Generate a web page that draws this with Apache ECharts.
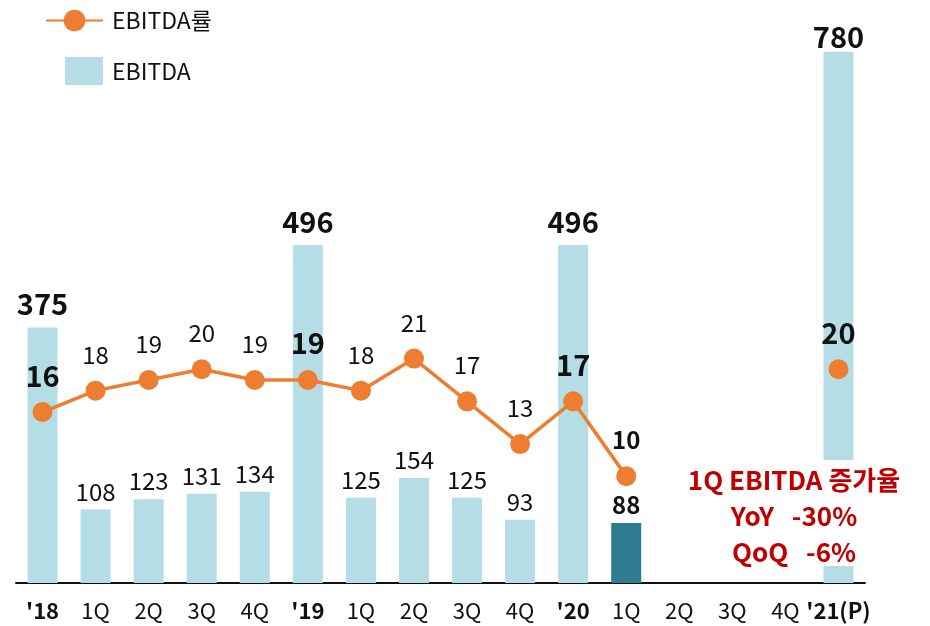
<!DOCTYPE html>
<html>
<head>
<meta charset="utf-8">
<script src="https://cdn.jsdelivr.net/npm/echarts@6/dist/echarts.min.js"></script>
<style>
  html, body { margin: 0; padding: 0; background: #fff; }
  #chart { width: 930px; height: 626px; }
</style>
</head>
<body>
<div id="chart"></div>
<script>
// categories on the x axis ('annual' ones are drawn bold)
const categories = ["'18", '1Q', '2Q', '3Q', '4Q', "'19", '1Q', '2Q', '3Q', '4Q', "'20", '1Q', '2Q', '3Q', '4Q', "'21(P)"]
const annualIdx = [0, 5, 10, 15]
const currentIdx = 11 // 1Q'20, highlighted

// EBITDA (bars)
const ebitda = [375, 108, 123, 131, 134, 496, 125, 154, 125, 93, 496, 88, null, null, null, 780]
// EBITDA률 (line)
const ebitdaRate = [16, 18, 19, 20, 19, 19, 18, 21, 17, 13, 17, 10, null, null, null, 20]

const noteLines = ['1Q EBITDA 증가율', 'YoY   -30%', 'QoQ   -6%']

const FONT = '"Noto Sans CJK KR", "Noto Sans", sans-serif'
const ORANGE = '#ed7d31'
const LIGHT = '#b5dde6'
const DARK = '#2f7b8f'

const isAnnual = i => annualIdx.indexOf(i) >= 0
const lastIdx = categories.length - 1

const barData = ebitda.map((v, i) => {
  if (v === null) return null
  const item = { value: v, label: {} }
  if (i === currentIdx) {
    item.itemStyle = { color: DARK }
    item.label = { fontWeight: 'bold', fontSize: 24, distance: 6 }
  } else if (isAnnual(i)) {
    // top bar label sits lower, close to the chart top
    item.label = { fontWeight: 'bold', fontSize: 29, distance: i === lastIdx ? 0 : 9 }
  }
  return item
})

const lineData = ebitdaRate.map((v, i) => {
  if (v === null) return null
  const item = { value: v }
  if (isAnnual(i)) {
    item.label = { fontWeight: 'bold', fontSize: 29, distance: 12 }
  } else if (i === currentIdx) {
    item.label = { fontWeight: 'bold', fontSize: 24 }
  }
  return item
})

const chart = echarts.init(document.getElementById('chart'))

chart.setOption({
  animation: false,
  textStyle: { fontFamily: FONT },
  legend: [
    {
      data: [{ name: 'EBITDA률' }],
      left: 40,
      top: 4,
      itemWidth: 57,
      itemHeight: 27,
      textStyle: { fontSize: 23, color: '#111', fontFamily: FONT, padding: [0, 0, 0, 4] }
    },
    {
      data: [{ name: 'EBITDA', icon: 'rect' }],
      left: 60,
      top: 52,
      itemWidth: 38,
      itemHeight: 28,
      textStyle: { fontSize: 23, color: '#111', fontFamily: FONT, padding: [0, 0, 0, 4] }
    }
  ],
  grid: { left: 16, right: 65, top: 38, bottom: 43 },
  xAxis: {
    type: 'category',
    data: categories,
    boundaryGap: true,
    axisTick: { show: false },
    axisLine: { lineStyle: { color: '#111', width: 2 } },
    axisLabel: {
      interval: 0,
      margin: 17,
      color: '#111',
      fontSize: 22,
      fontFamily: FONT,
      formatter: (val, i) => isAnnual(i) ? '{b|' + val + '}' : val,
      rich: { b: { fontWeight: 'bold', fontSize: 22, fontFamily: FONT, color: '#111' } }
    }
  },
  yAxis: [
    { type: 'value', min: 0, max: 800, show: false, splitLine: { show: false } },
    { type: 'value', min: 0, max: 51, show: false, splitLine: { show: false } }
  ],
  series: [
    {
      name: 'EBITDA',
      type: 'bar',
      data: barData,
      barWidth: 30,
      itemStyle: { color: LIGHT },
      label: {
        show: true,
        position: 'top',
        distance: 6,
        color: '#111',
        fontSize: 24,
        fontFamily: FONT
      },
      z: 2
    },
    {
      name: 'EBITDA률',
      type: 'line',
      yAxisIndex: 1,
      data: lineData,
      connectNulls: false,
      symbol: 'circle',
      symbolSize: 20,
      itemStyle: { color: ORANGE },
      lineStyle: { color: ORANGE, width: 3.5 },
      label: {
        show: true,
        position: 'top',
        distance: 14,
        color: '#111',
        fontSize: 24,
        fontFamily: FONT
      },
      z: 3
    }
  ],
  graphic: [
    {
      type: 'rect',
      z: 100,
      shape: { x: 676, y: 460, width: 240, height: 106 },
      style: { fill: '#fff' }
    },
    {
      type: 'text',
      z: 101,
      x: 794,
      y: 516,
      style: {
        text: noteLines.join('\n'),
        fill: '#c00000',
        font: 'bold 26px ' + FONT,
        lineHeight: 36,
        align: 'center',
        verticalAlign: 'middle'
      }
    }
  ]
})
</script>
</body>
</html>
